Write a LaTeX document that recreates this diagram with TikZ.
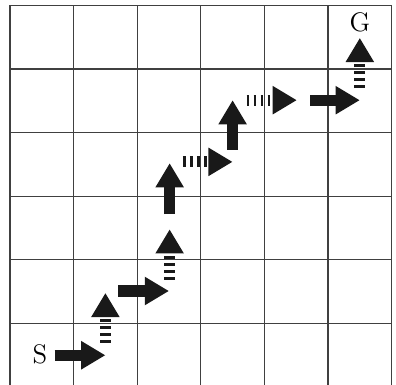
\documentclass[tikz,border=0pt]{standalone}
\usetikzlibrary{arrows.meta}
\tikzset{
  gridline/.style={line width=0.5pt,black!75},
  plein/.style={line width=1.75mm,black!90,-{Triangle[length=3.8mm,width=4.2mm]}},
  tirets/.style={plein,dash pattern=on 0.45mm off 0.65mm}
}
\begin{document}
\begin{tikzpicture}[x=1cm,y=1cm]
  \useasboundingbox (-0.157,0.047) rectangle (6.069,6.085);
  %grille
  \draw[gridline] (0,0) grid (6,6);
  %fleches pleines
  \foreach \xa/\ya/\xb/\yb in {0.7/0.5/1.5/0.5,1.7/1.51/2.5/1.51,2.51/2.72/2.51/3.52,3.5/3.73/3.5/4.51,4.72/4.51/5.5/4.51}
    \draw[plein] (\xa,\ya)--(\xb,\yb) ;
  %fleches en tirets
  \foreach \xa/\ya/\xb/\yb in {1.5/0.7/1.5/1.48,2.51/1.69/2.51/2.48,2.72/3.54/3.5/3.54,3.72/4.51/4.51/4.51,5.5/4.7/5.5/5.49}
    \draw[tirets] (\xa,\ya)--(\xb,\yb) ;
  %depart et arrivee
  \node[font=\large] (S) at (0.47,0.52) {S};
  \node[font=\large] (G) at (5.5,5.74) {G};
\end{tikzpicture}
\end{document}
